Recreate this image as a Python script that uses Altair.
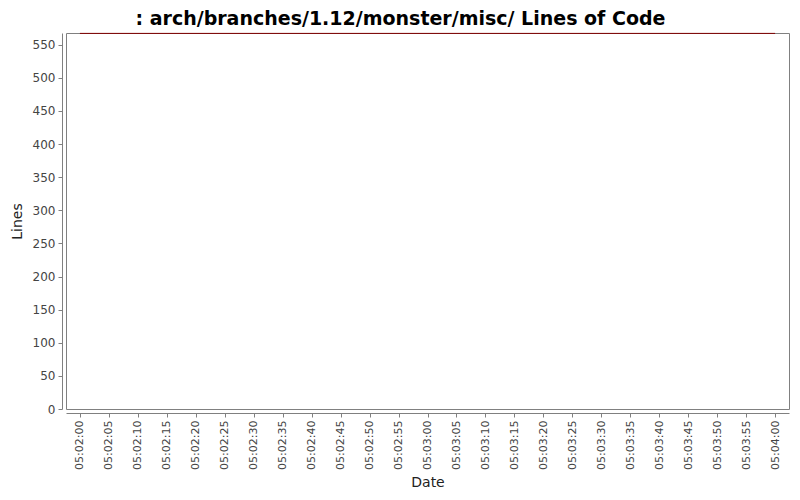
import altair as alt
import pandas as pd

dates = ["2020-01-01T05:02:00Z", "2020-01-01T05:04:00Z"]
lines = [567, 567]
tick_seconds = list(range(0, 125, 5))
y_ticks = list(range(0, 551, 50))

df = pd.DataFrame({"date": pd.to_datetime(dates), "lines": lines})

base_ms = int(pd.Timestamp("2020-01-01T05:02:00Z").value // 10**6)
tick_vals = [base_ms + s * 1000 for s in tick_seconds]
x_domain = [base_ms - 2400, base_ms + 122400]

FONT = "DejaVu Sans"

chart = alt.Chart(df).mark_line(color="#800000", strokeWidth=1, clip=False).encode(
    x=alt.X(
        "date:T",
        title="Date",
        scale=alt.Scale(type="utc", domain=x_domain, nice=False),
        axis=alt.Axis(
            values=tick_vals,
            labelExpr="utcFormat(datum.value, '%H:%M:%S')",
            labelAngle=-90,
            labelAlign="right",
            labelBaseline="middle",
            labelFontSize=11,
            grid=False,
            offset=4,
            tickSize=4,
            labelPadding=3,
            titlePadding=6,
        ),
    ),
    y=alt.Y(
        "lines:Q",
        title="Lines",
        scale=alt.Scale(domain=[0, 567.6], nice=False, zero=True),
        axis=alt.Axis(
            values=y_ticks,
            grid=False,
            offset=4,
            tickSize=4,
            labelPadding=3,
            labelFontSize=12,
            titlePadding=8,
        ),
    ),
).properties(
    width=723,
    height=376,
    title=alt.TitleParams(
        ": arch/branches/1.12/monster/misc/ Lines of Code",
        font=FONT,
        fontSize=19,
        fontWeight="bold",
        color="#000000",
        anchor="middle",
        dx=-27,
        offset=2,
    ),
    padding={"left": 58, "top": 25, "right": 3, "bottom": 83},
    autosize=alt.AutoSizeParams(type="none"),
).configure_view(
    stroke="#808080", strokeWidth=1
).configure_axis(
    domainColor="#808080",
    tickColor="#808080",
    labelColor="#444444",
    labelFont=FONT,
    titleFont=FONT,
    titleFontSize=14,
    titleFontWeight="normal",
    titleColor="#222222",
)

chart.save("out.html", embed_options={"renderer": "svg", "actions": False})
